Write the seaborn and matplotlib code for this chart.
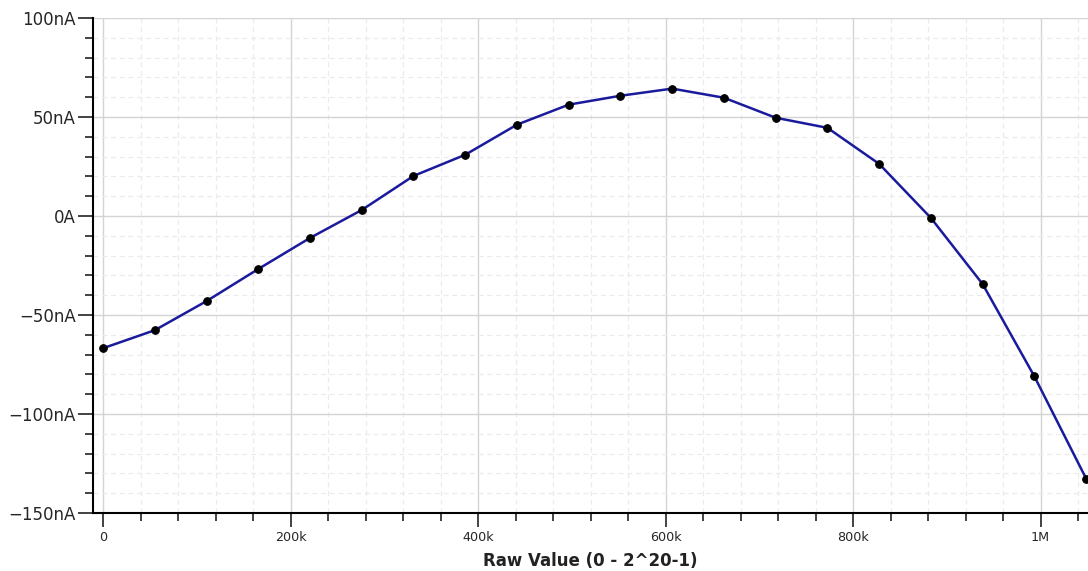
import numpy as np
import pandas as pd
import matplotlib
matplotlib.use("Agg")
import matplotlib.pyplot as plt
import matplotlib.ticker as mticker
import seaborn as sns

# --- dati ---
raw_values = [0, 55188, 110376, 165564, 220752, 275941, 331129, 386317, 441505, 496693,
              551882, 607070, 662258, 717446, 772634, 827822, 883011, 938199, 993387, 1048575]
current_na = [-66.8, -57.7, -43.0, -26.8, -11.1, 3.0, 20.2, 30.9, 46.1, 56.2,
              60.7, 64.3, 59.7, 49.6, 44.5, 26.3, -1.0, -34.4, -81.0, -132.6]
x_ticks = [0, 200000, 400000, 600000, 800000, 1000000]
x_tick_labels = ["0", "200k", "400k", "600k", "800k", "1M"]
y_ticks = [-150, -100, -50, 0, 50, 100]

df = pd.DataFrame({"raw": raw_values, "current": current_na})

sns.set_style("white")
plt.rcParams["font.family"] = ["DejaVu Sans"]

fig = plt.figure(figsize=(10.88, 5.71), dpi=100)
ax = fig.add_axes([0.0855, 0.1016, 0.9145, 0.867])

sns.lineplot(data=df, x="raw", y="current", ax=ax, color="#1a1a9c", linewidth=1.8,
             marker="o", markersize=5.5, markerfacecolor="black", markeredgecolor="black",
             zorder=3)

ax.set_xlim(-10700, 1050600)
ax.set_ylim(-150, 100)

ax.set_xticks(x_ticks)
ax.set_xticklabels(x_tick_labels, fontsize=9.2)
ax.xaxis.set_minor_locator(mticker.MultipleLocator(40000))
ax.set_yticks(y_ticks)
ax.yaxis.set_minor_locator(mticker.MultipleLocator(10))


def fmt_na(v, pos):
    if v == 0:
        return "0A"
    s = f"{abs(v):g}nA"
    return ("\u2212" + s) if v < 0 else s


ax.yaxis.set_major_formatter(mticker.FuncFormatter(fmt_na))
ax.tick_params(which="both", bottom=True, left=True, direction="out")
ax.tick_params(axis="y", which="major", labelsize=12, length=11, width=1.2, color="#222222", pad=1.5)
ax.tick_params(axis="y", which="minor", length=6, width=1.2, color="#222222")
ax.tick_params(axis="x", which="major", length=10, width=1.2, color="#222222", pad=3)
ax.tick_params(axis="x", which="minor", length=6, width=1.2, color="#222222")

ax.grid(which="major", color="#d4d4d4", linewidth=1.0, linestyle="-")
ax.grid(which="minor", color="#ebebeb", linewidth=0.9, linestyle=(0, (4, 3)))
ax.set_axisbelow(True)

for side in ["top", "right"]:
    ax.spines[side].set_visible(False)
for side in ["left", "bottom"]:
    ax.spines[side].set_color("black")
    ax.spines[side].set_linewidth(1.5)

ax.set_xlabel("Raw Value (0 - 2^20-1)", fontsize=12, fontweight="bold", color="#222222", labelpad=5.5)
ax.set_ylabel("")

fig.savefig("out.png", dpi=100)
